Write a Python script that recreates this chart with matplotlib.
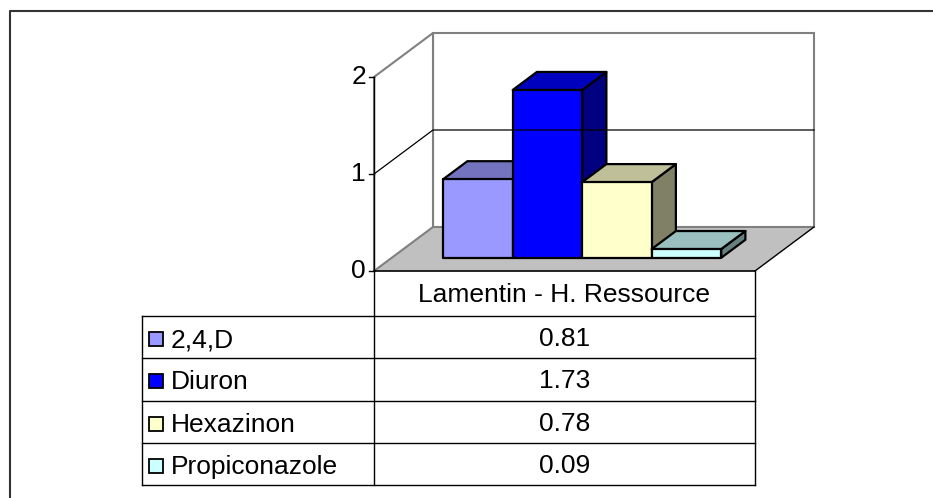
import matplotlib
matplotlib.use('Agg')
import matplotlib.pyplot as plt
from matplotlib.patches import Polygon, Rectangle

# Données du graphique
category = 'Lamentin - H. Ressource'
series = ['2,4,D', 'Diuron', 'Hexazinon', 'Propiconazole']
values = [0.81, 1.73, 0.78, 0.09]
value_labels = ['0.81', '1.73', '0.78', '0.09']
y_ticks = [0, 1, 2]

front_colors = ['#9999FF', '#0000FF', '#FFFFCC', '#CCFFFF']
top_colors = ['#7373BF', '#0000BF', '#BFBF99', '#99BFBF']
side_colors = ['#4C4C80', '#000080', '#808066', '#668080']

# Géométrie du cadre 3D (en pixels)
X0, Y0 = 374, 271      # origine du plan avant
W = 381                # largeur de la catégorie
SCALE = 97             # pixels par unité
DX, DY = 59, -44       # profondeur totale
YMAX = 2


def proj(xf, val, d):
    return (X0 + xf * W + d * DX, Y0 - val * SCALE + d * DY)


fig = plt.figure(figsize=(9.33, 4.98), dpi=100)
ax = fig.add_axes([0, 0, 1, 1])
ax.set_xlim(0, 933)
ax.set_ylim(498, 0)
ax.axis('off')

fs = 19
font = 'Liberation Sans'

# cadre extérieur
ax.plot([10, 10, 933], [498, 11, 11], color='#333333', lw=1.5)

# sol
floor = [proj(0, 0, 0), proj(1, 0, 0), proj(1, 0, 1), proj(0, 0, 1)]
ax.add_patch(Polygon(floor, closed=True, facecolor='#C0C0C0', edgecolor='none'))
# mur du fond
back = [proj(0, 0, 1), proj(1, 0, 1), proj(1, YMAX, 1), proj(0, YMAX, 1)]
ax.add_patch(Polygon(back, closed=True, facecolor='white', edgecolor='#808080', lw=1.5))
# mur gauche
left = [proj(0, 0, 0), proj(0, 0, 1), proj(0, YMAX, 1), proj(0, YMAX, 0)]
ax.add_patch(Polygon(left, closed=True, facecolor='white', edgecolor='#808080', lw=1.5))

# quadrillage
for t in y_ticks[1:-1]:
    pts = [proj(0, t, 0), proj(0, t, 1), proj(1, t, 1)]
    ax.plot([p[0] for p in pts], [p[1] for p in pts], color='black', lw=0.9)

# bords du sol
p1, p2 = proj(1, 0, 0), proj(1, 0, 1)
ax.plot([p1[0], p2[0]], [p1[1], p2[1]], color='black', lw=1)

# axe Y
a, b = proj(0, 0, 0), proj(0, YMAX, 0)
ax.plot([a[0], b[0]], [a[1], b[1]], color='black', lw=1)
for t in y_ticks:
    x, y = proj(0, t, 0)
    ax.plot([x - 5, x], [y, y], color='black', lw=1)
    ax.text(x - 8, y, str(t), ha='right', va='center', fontsize=fs, family=font)

# barres
n = len(values)
bw = 69.5 / W
start = (1 - n * bw) / 2
d0, d1 = 0.3, 0.71
for i, v in enumerate(values):
    xl = start + i * bw
    xr = xl + bw
    front = [proj(xl, 0, d0), proj(xr, 0, d0), proj(xr, v, d0), proj(xl, v, d0)]
    top = [proj(xl, v, d0), proj(xr, v, d0), proj(xr, v, d1), proj(xl, v, d1)]
    side = [proj(xr, 0, d0), proj(xr, 0, d1), proj(xr, v, d1), proj(xr, v, d0)]
    ax.add_patch(Polygon(side, closed=True, facecolor=side_colors[i], edgecolor='black', lw=1.6, joinstyle='round'))
    ax.add_patch(Polygon(top, closed=True, facecolor=top_colors[i], edgecolor='black', lw=1.6, joinstyle='round'))
    ax.add_patch(Polygon(front, closed=True, facecolor=front_colors[i], edgecolor='black', lw=1.6, joinstyle='round'))

# tableau de données
tl, tr = 142, 755
hdr_top, hdr_bot = 271, 316
row_h = (485 - 316) / n
ax.plot([X0, tr], [hdr_top, hdr_top], color='black', lw=1.2)
ax.plot([X0, X0], [hdr_top, 485], color='black', lw=1)
ax.plot([tr, tr], [hdr_top, 485], color='black', lw=1)
ax.text((X0 + tr) / 2, (hdr_top + hdr_bot) / 2 + 1, category, ha='center', va='center',
        fontsize=fs, family=font)
ax.plot([tl, tr], [hdr_bot, hdr_bot], color='black', lw=1)
ax.plot([tl, tl], [hdr_bot, 485], color='black', lw=1)
for i, (name, lab) in enumerate(zip(series, value_labels)):
    y0 = hdr_bot + i * row_h
    y1 = y0 + row_h
    ax.plot([tl, tr], [y1, y1], color='black', lw=1)
    yc = (y0 + y1) / 2 + 2
    ax.add_patch(Rectangle((149, yc - 7), 14, 14, facecolor=front_colors[i], edgecolor='black', lw=1.3))
    ax.text(171, yc + 1, name, ha='left', va='center', fontsize=fs, family=font)
    ax.text((X0 + tr) / 2, yc, lab, ha='center', va='center', fontsize=fs, family=font)

fig.savefig('out.png', dpi=100)
